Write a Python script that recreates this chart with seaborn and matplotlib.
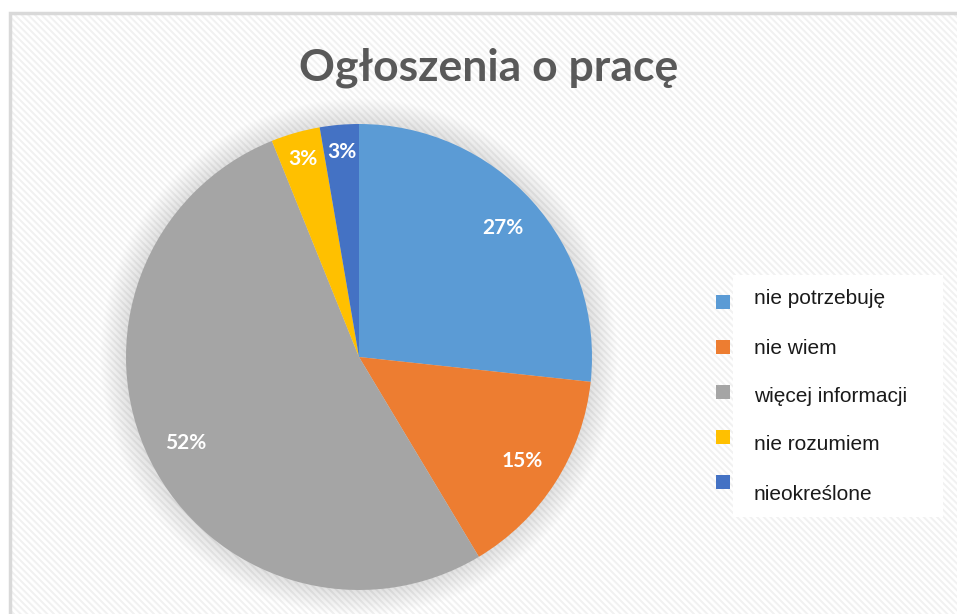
import matplotlib
matplotlib.use("Agg")
import matplotlib.pyplot as plt
import matplotlib.patches as mpatches
import seaborn as sns
import numpy as np

# ---- data ----
categories = ["nie potrzebuję", "nie wiem", "więcej informacji", "nie rozumiem", "nieokreślone"]
values = [26.7, 14.7, 52.5, 3.4, 2.7]
colors = ["#5B9BD5", "#ED7D31", "#A5A5A5", "#FFC000", "#4472C4"]
title = "Ogłoszenia o pracę"

sns.set_theme(style="white")
sns.set_palette(colors)
plt.rcParams["font.family"] = ["Lato", "DejaVu Sans"]
plt.rcParams["hatch.linewidth"] = 1.4

W, H = 957, 614
fig = plt.figure(figsize=(W / 100, H / 100), dpi=100)
fig.patch.set_facecolor("white")

def fx(px):
    return px / W

def fy(py):
    return 1 - py / H

# hatched background with border
bg = mpatches.Rectangle((fx(10), 0), 1.2, fy(13), transform=fig.transFigure,
                        facecolor="white", edgecolor="#f1f1f1", hatch="\\\\\\\\\\", lw=0, zorder=-3)
fig.patches.append(bg)
border = mpatches.Rectangle((fx(10), -0.1), 1.2, fy(13) + 0.1, transform=fig.transFigure,
                            facecolor="none", edgecolor="#d9d9d9", lw=2.5, zorder=-2)
fig.patches.append(border)

# pie axes
cx, cy, R = 359, 357, 233
scale = 1.25
ax = fig.add_axes([fx(cx - R * scale), fy(cy + R * scale), 2 * R * scale / W, 2 * R * scale / H])
ax.set_zorder(1)
ax.set_xlim(-scale, scale)
ax.set_ylim(-scale, scale)
ax.set_aspect("equal")
ax.axis("off")
ax.patch.set_alpha(0)

# soft shadow
for r in np.linspace(1.11, 1.0, 30):
    ax.add_patch(mpatches.Circle((0, 0), r, facecolor="black", alpha=0.0045, lw=0, zorder=0))

wedges, texts, autotexts = ax.pie(values, colors=colors, startangle=90, counterclock=False,
                                  autopct="%.0f%%", pctdistance=0.83, radius=1.0,
                                  wedgeprops=dict(linewidth=0, edgecolor="none"),
                                  textprops=dict(color="white", fontsize=15, fontweight="bold"))
for i, t in enumerate(autotexts):
    if values[i] < 5:
        x, y = t.get_position()
        t.set_position((x * 0.885 / 0.83, y * 0.885 / 0.83))
for w in wedges:
    w.set_zorder(2)

# title
fig.text(fx(489), fy(80), title, ha="center", va="baseline", fontsize=32,
         fontweight="bold", color="#595959")

# legend (manual, matching layout)
fig.patches.append(mpatches.Rectangle((fx(733), fy(517)), fx(943) - fx(733), fy(275) - fy(517),
                                      transform=fig.transFigure, facecolor="white",
                                      edgecolor="none", zorder=2))
marker_y = [295, 340, 385, 430, 475]
text_y = [299, 348, 396, 444, 494]
for i, lab in enumerate(categories):
    fig.patches.append(mpatches.Rectangle((fx(716), fy(marker_y[i] + 14)), 14 / W, 14 / H,
                                          transform=fig.transFigure, facecolor=colors[i],
                                          edgecolor="none", zorder=3))
    fig.text(fx(754), fy(text_y[i]), lab, ha="left", va="center", fontsize=15,
             color="#1a1a1a", family=["Liberation Sans", "DejaVu Sans"], zorder=4)

fig.savefig("out.png", dpi=100)
